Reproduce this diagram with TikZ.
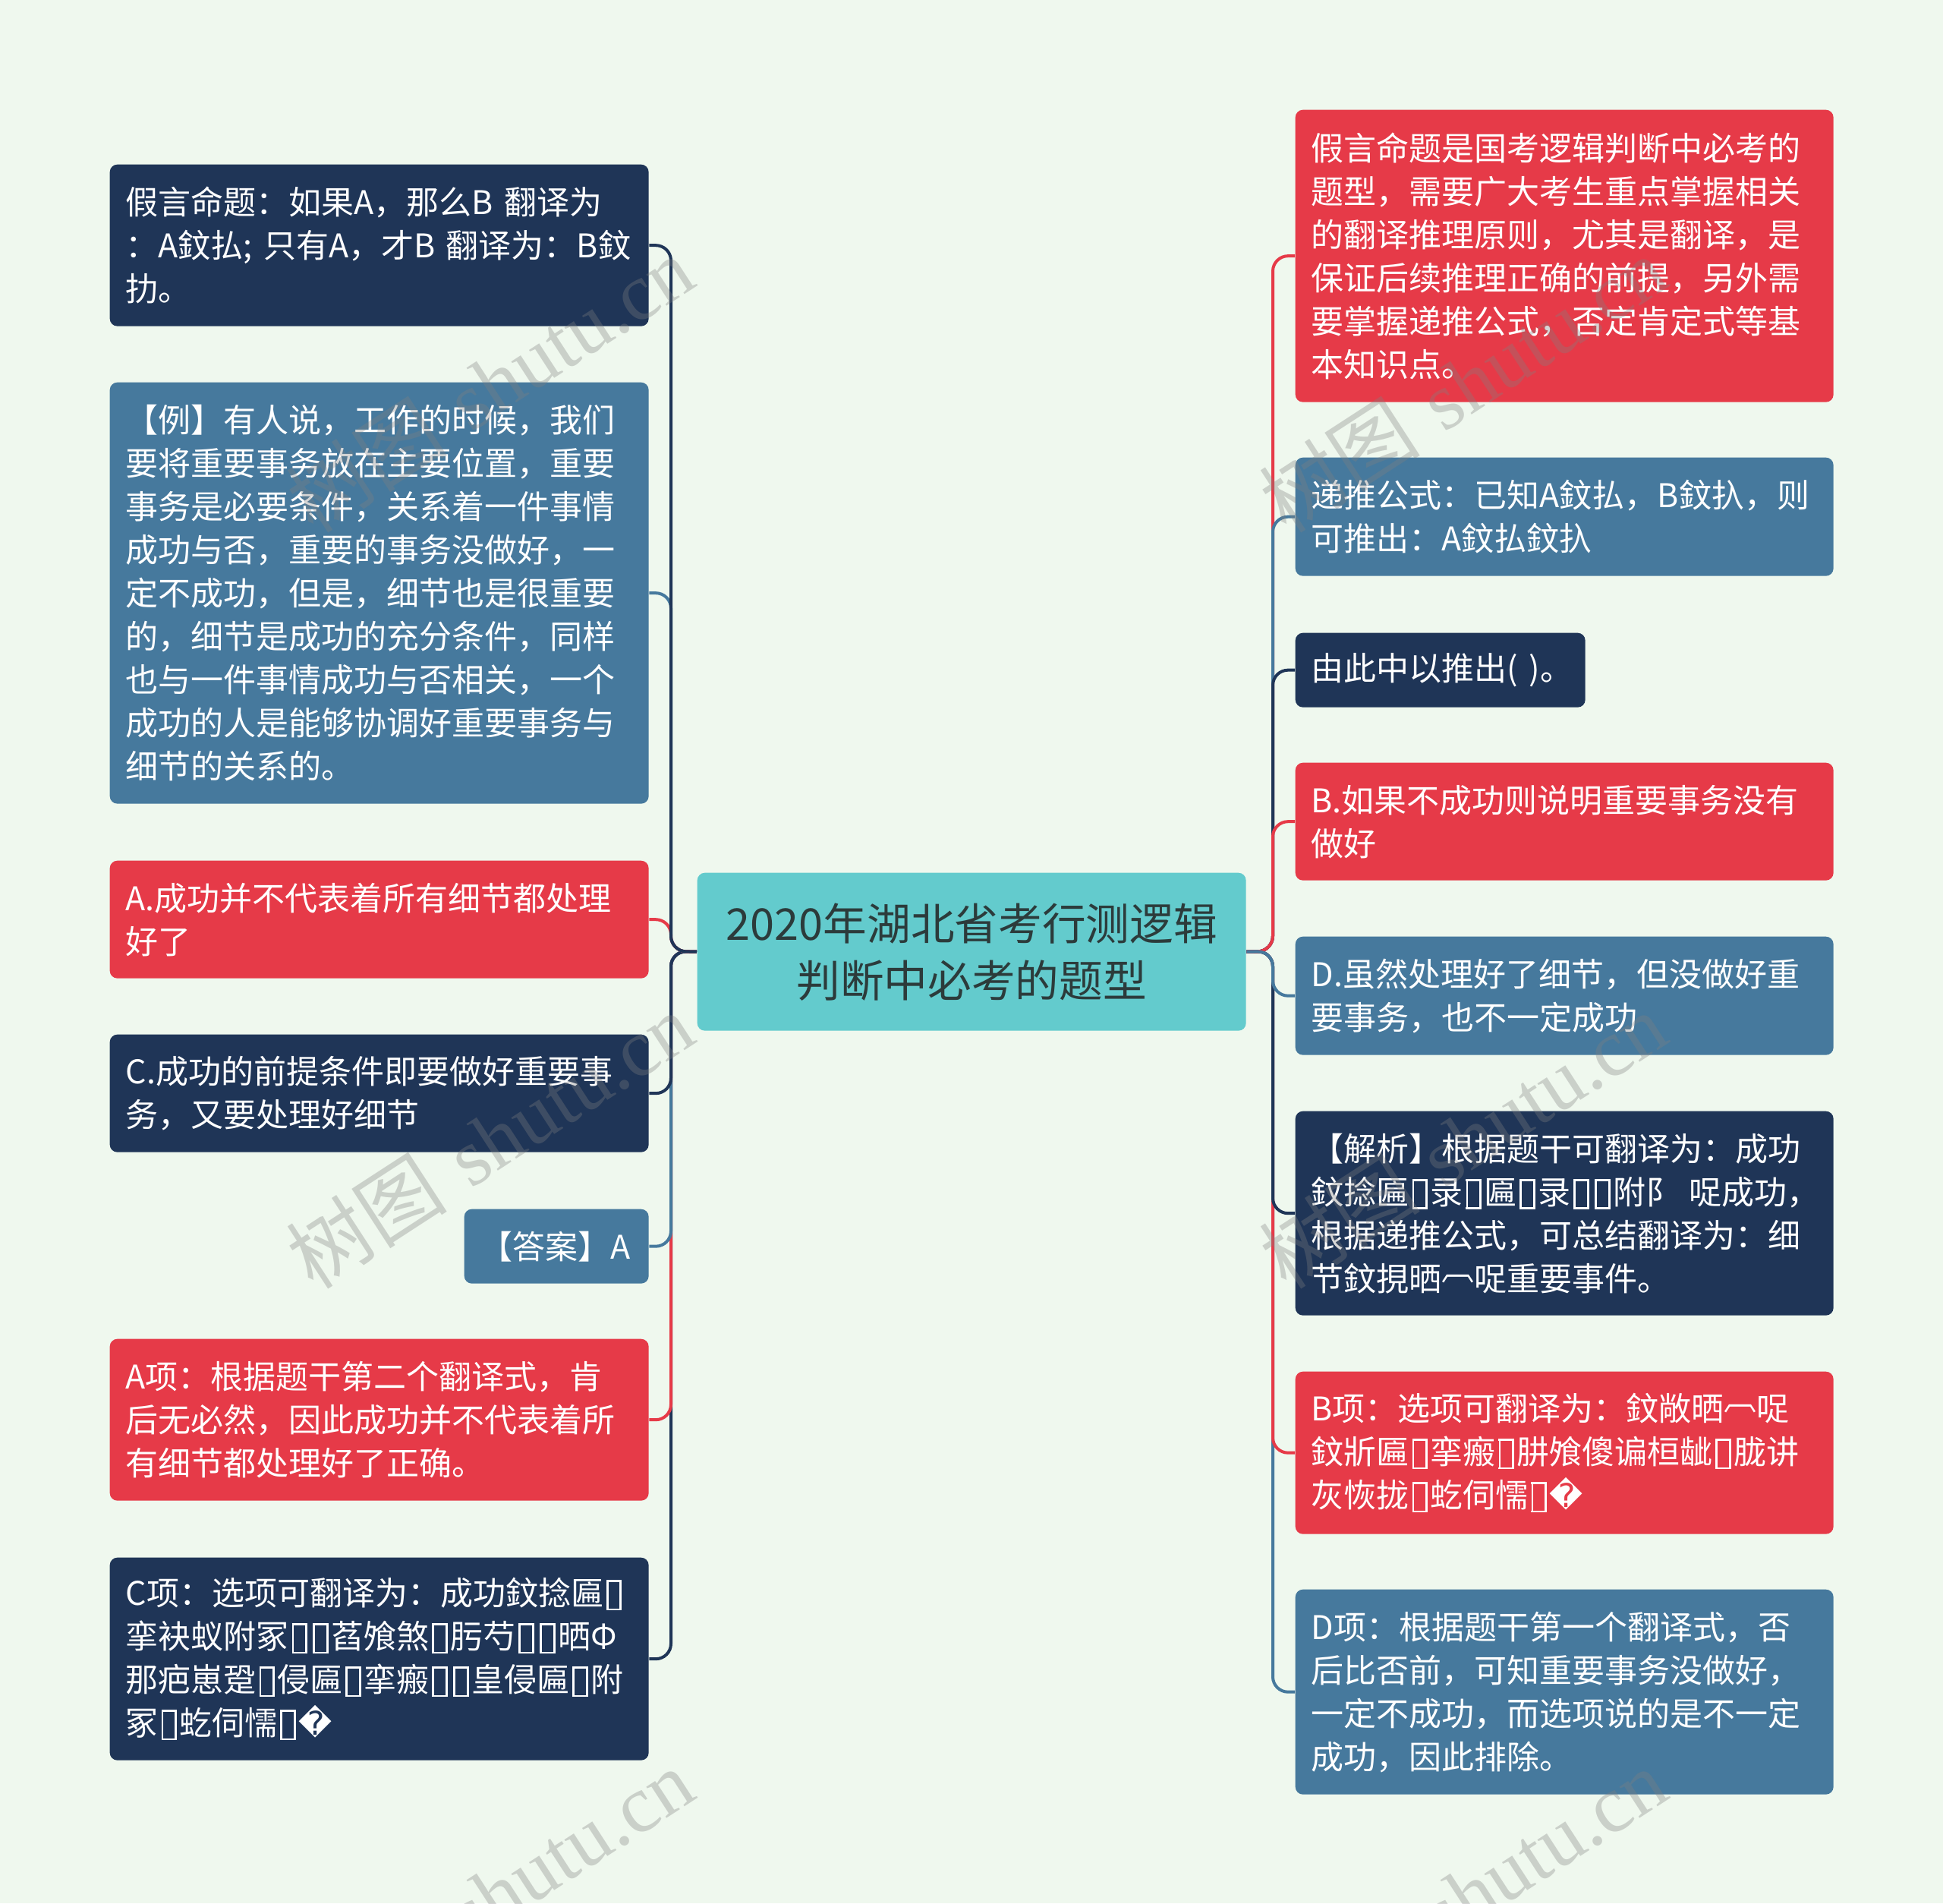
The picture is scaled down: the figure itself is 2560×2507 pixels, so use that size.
\documentclass[tikz,border=0pt]{standalone}
\usepackage{fontspec}
\setmainfont{Noto Sans CJK SC}
\newfontfamily\dvfont{DejaVu Sans}
\newfontfamily\wmlatin{Liberation Serif}
\definecolor{bg}{HTML}{EFF8EE}
\definecolor{cnavy}{HTML}{1F3557}
\definecolor{cblue}{HTML}{46799D}
\definecolor{cred}{HTML}{E63A48}
\definecolor{cteal}{HTML}{63CBCD}
\definecolor{ctext}{HTML}{2C3B3B}
\newcommand{\rep}{{\dvfont ^^^^fffd}}
\newcommand{\bx}{{\setlength\fboxsep{0pt}\setlength\fboxrule{0.065em}\kern0.09em\raisebox{-0.1em}{\fbox{\rule{0pt}{0.8em}\rule{0.34em}{0pt}}}\kern0.09em}}
\newcommand{\arc}{\raisebox{0.32em}{︹}}
\pgfdeclarelayer{bglayer}
\pgfdeclarelayer{linelayer}
\pgfsetlayers{bglayer,linelayer,main}
\tikzset{
  leaf/.style={anchor=north west, inner xsep=6.3pt, inner ysep=0pt, rounded corners=3pt,
    text=white, align=left, font=\fontsize{12.9pt}{17.1pt}\selectfont},
  conn/.style={line width=1.2pt, rounded corners=6pt},
  wm/.style={rotate=33, text=black!50, opacity=0.33, font=\fontsize{32pt}{32pt}\selectfont}
}
\begin{document}
\begin{tikzpicture}[x=0.3pt,y=-0.3pt]
\begin{pgfonlayer}{bglayer}
\fill[bg] (0,0) rectangle (2560,2507);
\end{pgfonlayer}
\useasboundingbox (0,0) rectangle (2560,2507);

% central node
\node[anchor=north west, fill=cteal, rounded corners=3pt, minimum width=216.9pt, minimum height=62.4pt,
  inner sep=0pt, align=center, text=ctext, font=\fontsize{17.3pt}{22.5pt}\selectfont] (c) at (918,1149)
  {2020年湖北省考行测逻辑\\判断中必考的题型};

\coordinate (tl) at (884,1253);
\coordinate (tr) at (1677,1253);

% left nodes
\node[leaf, fill=cnavy, minimum width=213pt, minimum height=63.9pt, text width=200.4pt] (l1) at (144,216)
  {假言命题：如果A，那么B~翻译为\\：A鈫払;~只有A，才B~翻译为：B鈫\\扐。};
\node[leaf, fill=cblue, minimum width=213pt, minimum height=166.5pt, text width=200.4pt] (l2) at (144,503)
  {【例】有人说，工作的时候，我们\\要将重要事务放在主要位置，重要\\事务是必要条件，关系着一件事情\\成功与否，重要的事务没做好，一\\定不成功，但是，细节也是很重要\\的，细节是成功的充分条件，同样\\也与一件事情成功与否相关，一个\\成功的人是能够协调好重要事务与\\细节的关系的。};
\node[leaf, fill=cred, minimum width=213pt, minimum height=46.5pt, text width=200.4pt] (l3) at (144,1133)
  {A.成功并不代表着所有细节都处理\\好了};
\node[leaf, fill=cnavy, minimum width=213pt, minimum height=46.5pt, text width=200.4pt] (l4) at (144,1362)
  {C.成功的前提条件即要做好重要事\\务，又要处理好细节};
\node[leaf, fill=cblue, minimum width=72.9pt, minimum height=29.4pt, text width=60.3pt] (l5) at (611,1592)
  {【答案】A};
\node[leaf, fill=cred, minimum width=213pt, minimum height=63.9pt, text width=200.4pt] (l6) at (144,1763)
  {A项：根据题干第二个翻译式，肯\\后无必然，因此成功并不代表着所\\有细节都处理好了正确。};
\node[leaf, fill=cnavy, minimum width=213pt, minimum height=80.1pt, text width=200.4pt] (l7) at (144,2051)
  {C项：选项可翻译为：成功鈫捻匾\bx\\挛袂蚁附冢\bx\bx 萏飧煞\bx 肟芍\bx\bx 晒Φ\\那疤崽跫\bx 侵匾\bx 挛瘢\bx\bx 皇侵匾\bx 附\\冢\bx 虼伺懦\bx\rep};

% right nodes
\node[leaf, fill=cred, minimum width=212.7pt, minimum height=115.5pt, text width=200.1pt] (r1) at (1706,144)
  {假言命题是国考逻辑判断中必考的\\题型，需要广大考生重点掌握相关\\的翻译推理原则，尤其是翻译，是\\保证后续推理正确的前提，另外需\\要掌握递推公式，否定肯定式等基\\本知识点。};
\node[leaf, fill=cblue, minimum width=212.7pt, minimum height=46.8pt, text width=200.1pt] (r2) at (1706,602)
  {递推公式：已知A鈫払，B鈫扖，则\\可推出：A鈫払鈫扖};
\node[leaf, fill=cnavy, minimum width=114.6pt, minimum height=29.4pt, text width=102pt] (r3) at (1706,833)
  {由此中以推出(~)。};
\node[leaf, fill=cred, minimum width=212.7pt, minimum height=46.5pt, text width=200.1pt] (r4) at (1706,1004)
  {B.如果不成功则说明重要事务没有\\做好};
\node[leaf, fill=cblue, minimum width=212.7pt, minimum height=46.8pt, text width=200.1pt] (r5) at (1706,1233)
  {D.虽然处理好了细节，但没做好重\\要事务，也不一定成功};
\node[leaf, fill=cnavy, minimum width=212.7pt, minimum height=80.7pt, text width=200.1pt] (r6) at (1706,1463)
  {【解析】根据题干可翻译为：成功\\鈫捻匾\bx 录\bx 匾\bx 录\bx\bx 附阝~哫成功，\\根据递推公式，可总结翻译为：细\\节鈫挸晒\arc 哫重要事件。};
\node[leaf, fill=cred, minimum width=212.7pt, minimum height=64.2pt, text width=200.1pt] (r7) at (1706,1806)
  {B项：选项可翻译为：鈫敞晒\arc 哫\\鈫斨匾\bx 挛瘢\bx 肼飧傻谝桓龇\bx 胧讲\\灰恢拢\bx 虼伺懦\bx\rep};
\node[leaf, fill=cblue, minimum width=212.7pt, minimum height=81pt, text width=200.1pt] (r8) at (1706,2093)
  {D项：根据题干第一个翻译式，否\\后比否前，可知重要事务没做好，\\一定不成功，而选项说的是不一定\\成功，因此排除。};

% connectors
\begin{pgfonlayer}{linelayer}
\draw[conn, cnavy] (c.west) -- (tl) |- (l7.east);
\draw[conn, cred] (c.west) -- (tl) |- (l6.east);
\draw[conn, cblue] (c.west) -- (tl) |- (l5.east);
\draw[conn, cnavy] (c.west) -- (tl) |- (l4.east);
\draw[conn, cblue] (c.west) -- (tl) |- (l2.east);
\draw[conn, cred] (c.west) -- (tl) |- (l3.east);
\draw[conn, cnavy] (c.west) -- (tl) |- (l1.east);
\draw[conn, cblue] (c.east) -- (tr) |- (r8.west);
\draw[conn, cred] (c.east) -- (tr) |- (r7.west);
\draw[conn, cnavy] (c.east) -- (tr) |- (r6.west);
\draw[conn, cred] (c.east) -- (tr) |- (r1.west);
\draw[conn, cblue] (c.east) -- (tr) |- (r2.west);
\draw[conn, cnavy] (c.east) -- (tr) |- (r3.west);
\draw[conn, cred] (c.east) -- (tr) |- (r4.west);
\draw[conn, cblue] (c.east) -- (tr) |- (r5.west);
\end{pgfonlayer}

% watermarks
\begin{scope}
\clip (0,0) rectangle (2560,2507);
\foreach \wx/\wy in {645/506, 645/1502, 645/2498, 1927/506, 1927/1502, 1927/2498}{
  \node[wm] at (\wx,\wy) {树图\hspace{10pt}{\wmlatin shutu.cn}};
}
\end{scope}
\end{tikzpicture}
\end{document}
